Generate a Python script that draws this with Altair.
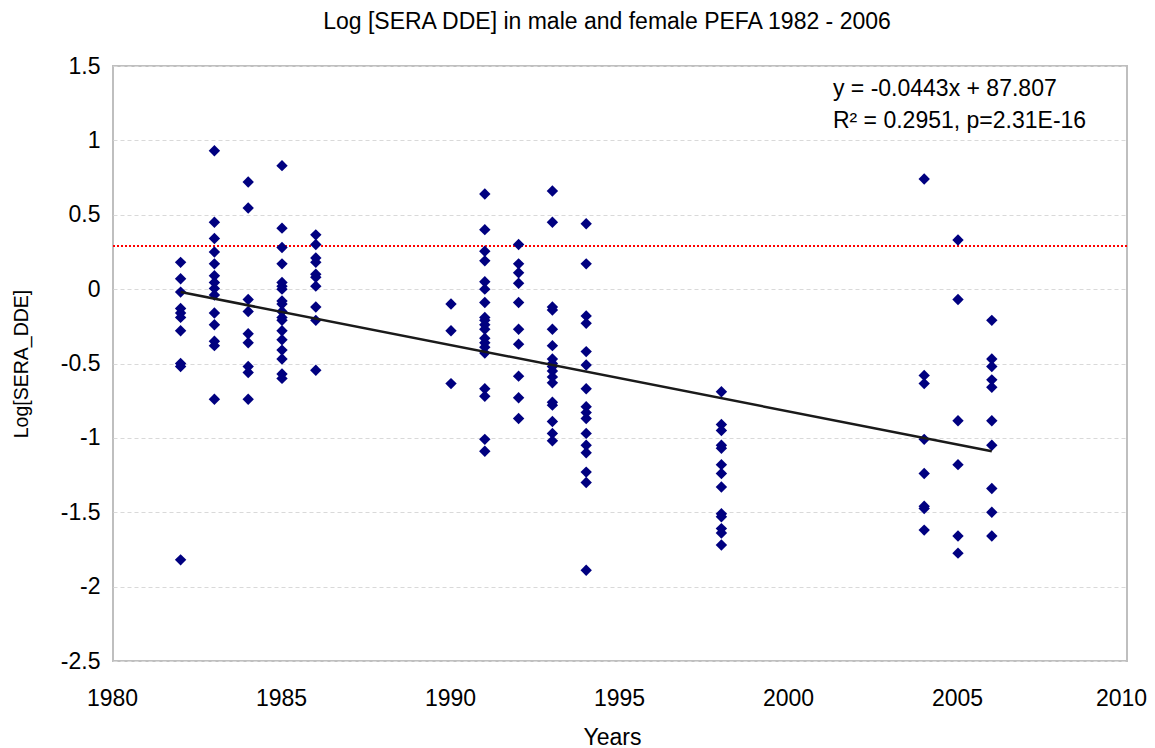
import altair as alt
import pandas as pd

FONT = "Liberation Sans"

# Log[SERA_DDE] values read per sampling year
v1982 = [0.18, 0.07, -0.02, -0.13, -0.16, -0.19, -0.28, -0.50, -0.52, -1.82]
v1983 = [0.93, 0.45, 0.34, 0.25, 0.17, 0.09, 0.045, 0.005, -0.04, -0.16, -0.24, -0.35, -0.38, -0.74]
v1984 = [0.72, 0.545, -0.07, -0.15, -0.30, -0.36, -0.52, -0.56, -0.74]
v1985 = [0.83, 0.41, 0.28, 0.17, 0.045, 0.02, 0.0, -0.08, -0.10, -0.15, -0.19, -0.21,
         -0.28, -0.34, -0.41, -0.47, -0.57, -0.60]
v1986 = [0.365, 0.30, 0.21, 0.18, 0.10, 0.08, 0.02, -0.12, -0.21, -0.545]
v1990 = [-0.10, -0.28, -0.635]
v1991 = [0.64, 0.40, 0.255, 0.19, 0.05, 0.0, -0.09, -0.19, -0.21, -0.24, -0.27, -0.33,
         -0.36, -0.39, -0.43, -0.67, -0.72, -1.01, -1.09]
v1992 = [0.30, 0.17, 0.11, 0.04, -0.09, -0.27, -0.37, -0.585, -0.73, -0.87]
v1993 = [0.66, 0.45, -0.12, -0.14, -0.27, -0.38, -0.47, -0.50, -0.52, -0.55, -0.59,
         -0.63, -0.76, -0.78, -0.89, -0.97, -1.02]
v1994 = [0.44, 0.17, -0.18, -0.23, -0.42, -0.51, -0.67, -0.79, -0.83, -0.87, -0.97,
         -1.05, -1.10, -1.23, -1.30, -1.89]
v1998 = [-0.69, -0.91, -0.95, -1.05, -1.07, -1.18, -1.24, -1.33, -1.51, -1.53, -1.61,
         -1.64, -1.72]
v2004 = [0.74, -0.58, -0.635, -1.01, -1.24, -1.46, -1.475, -1.62]
v2005 = [0.33, -0.07, -0.885, -1.18, -1.66, -1.775]
v2006 = [-0.21, -0.47, -0.52, -0.61, -0.66, -0.885, -1.05, -1.34, -1.50, -1.66]

groups = {1982: v1982, 1983: v1983, 1984: v1984, 1985: v1985, 1986: v1986,
          1990: v1990, 1991: v1991, 1992: v1992, 1993: v1993, 1994: v1994,
          1998: v1998, 2004: v2004, 2005: v2005, 2006: v2006}

# regression line end points (as drawn)
fit_years = [1982, 2006]
fit_values = [-0.02, -1.09]

# red dotted reference level
threshold = [0.29]

# annotation
ann_lines = ["y = -0.0443x + 87.807", "R\u00b2 = 0.2951, p=2.31E-16"]
ann_x = [2001.3, 2001.3]
ann_y = [1.30, 1.08]

x_ticks = [1980, 1985, 1990, 1995, 2000, 2005, 2010]
y_ticks = [-2.5, -2, -1.5, -1, -0.5, 0, 0.5, 1, 1.5]

rows = [{"year": y, "value": v} for y, vals in groups.items() for v in vals]
pts = pd.DataFrame(rows)
fit = pd.DataFrame({"year": fit_years, "value": fit_values})
thr = pd.DataFrame({"value": threshold})
ann = pd.DataFrame({"year": ann_x, "value": ann_y, "label": ann_lines})

xscale = alt.Scale(domain=[1980, 2010], nice=False, zero=False)
yscale = alt.Scale(domain=[-2.5, 1.5], nice=False, zero=False)

xaxis = alt.Axis(values=x_ticks, format="d", title="Years", grid=False, domain=False,
                 ticks=False, labelFontSize=23, labelPadding=26, labelColor="#000000",
                 labelFlush=False, labelOverlap=False,
                 labelOffset={"condition": {"test": "datum.value == 2010", "value": -6},
                              "value": -1},
                 labelFont=FONT, titleFont=FONT, titleFontSize=23, titleFontWeight="normal",
                 titleColor="#000000", titleX=499, titleY=76, titleBaseline="middle",
                 titleAnchor="start", titleAlign="center")
yaxis = alt.Axis(values=y_ticks, labelExpr="'' + datum.value", title="Log[SERA_DDE]",
                 grid=True, gridColor="#d9d9d9", gridDash=[4, 3], gridWidth=1,
                 domain=False, ticks=False, labelFontSize=23, labelPadding=13,
                 labelFlush=False, labelOverlap=False,
                 labelColor="#000000", labelFont=FONT, titleFont=FONT, titleFontSize=19.5,
                 titleFontWeight="normal", titleColor="#000000", titleX=-92, titleY=297.5,
                 titleAngle=-90, titleAlign="center", titleBaseline="middle")

base_x = alt.X("year:Q", scale=xscale, axis=xaxis)
base_y = alt.Y("value:Q", scale=yscale, axis=yaxis)

red = alt.Chart(thr).mark_rule(color="#ff0000", strokeWidth=2, strokeDash=[2, 2]).encode(
    y=alt.Y("value:Q", scale=yscale, axis=yaxis)
)
points = alt.Chart(pts).mark_point(shape="diamond", filled=True, size=130, color="#000080",
                                   opacity=1).encode(x=base_x, y=base_y)
line = alt.Chart(fit).mark_line(color="#1a1a1a", strokeWidth=2.5).encode(x=base_x, y=base_y)
text = alt.Chart(ann).mark_text(align="left", baseline="alphabetic", font=FONT, fontSize=23,
                                color="#000000").encode(x=base_x, y=base_y, text="label:N")

chart = alt.layer(red, points, line, text).properties(
    width=1014, height=595,
    padding={"left": 105, "top": 58, "right": 20, "bottom": 90},
    autosize=alt.AutoSizeParams(type="none"),
    title=alt.TitleParams("Log [SERA DDE] in male and female PEFA 1982 - 2006",
                          font=FONT, fontSize=23, fontWeight="normal", color="#000000",
                          anchor="middle", frame="group", offset=21, dx=-13),
    background="white",
).configure_view(stroke="#bfbfbf", strokeWidth=2)

chart.save("out.html", embed_options={"renderer": "svg", "actions": False})
